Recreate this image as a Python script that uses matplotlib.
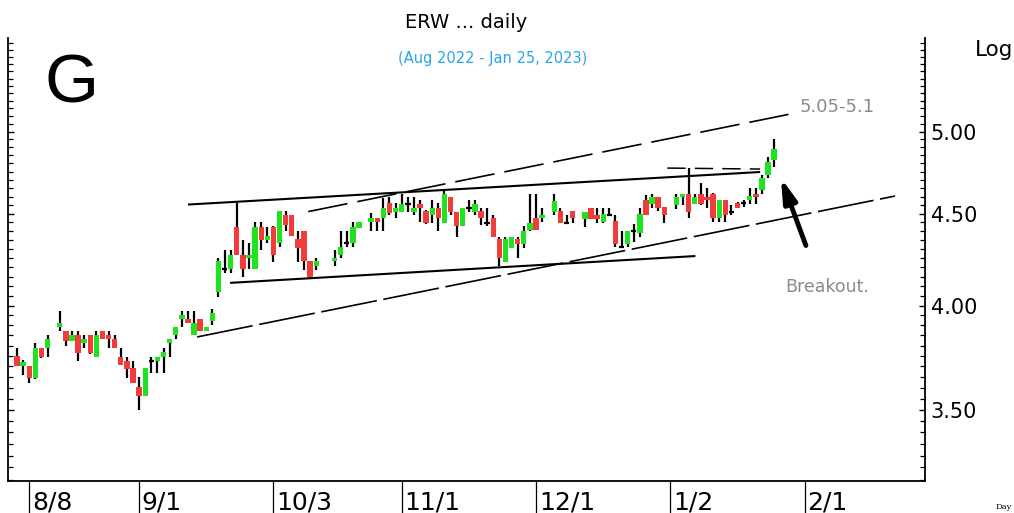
import numpy as np
import matplotlib
matplotlib.use("Agg")
import matplotlib.pyplot as plt
from matplotlib.transforms import blended_transform_factory
from matplotlib.ticker import FixedLocator, FixedFormatter, NullFormatter

# ---------------- data (bar slot -> open, high, low, close); None = no trading ----------
bars = [
    (3.75, 3.79, 3.70, 3.70), (3.70, 3.73, 3.66, 3.72), (3.70, 3.70, 3.62, 3.645),
    (3.645, 3.81, 3.64, 3.79), (3.79, 3.79, 3.74, 3.745), (3.79, 3.85, 3.745, 3.83),
    None,
    (3.89, 3.97, 3.87, 3.91), (3.87, 3.87, 3.80, 3.82), (3.82, 3.87, 3.82, 3.85),
    (3.85, 3.87, 3.725, 3.765), (3.81, 3.85, 3.79, 3.83), (3.85, 3.85, 3.76, 3.765),
    (3.745, 3.87, 3.745, 3.85), (3.87, 3.87, 3.83, 3.83), (3.85, 3.87, 3.79, 3.83),
    (3.83, 3.85, 3.79, 3.79), (3.745, 3.79, 3.705, 3.705), (3.725, 3.745, 3.645, 3.685),
    (3.69, 3.725, 3.62, 3.62), (3.605, 3.65, 3.50, 3.56), (3.56, 3.69, 3.56, 3.69),
    (3.725, 3.745, 3.67, 3.725), (3.725, 3.745, 3.67, 3.745), (3.745, 3.79, 3.67, 3.77),
    (3.81, 3.83, 3.745, 3.83), (3.85, 3.89, 3.83, 3.89), (3.93, 3.97, 3.89, 3.95),
    (3.93, 3.97, 3.91, 3.91), (3.85, 3.97, 3.85, 3.91), (3.93, 3.93, 3.87, 3.87),
    (3.87, 3.89, 3.87, 3.89), (3.92, 3.98, 3.90, 3.96),
    (4.07, 4.25, 4.045, 4.235), (4.19, 4.295, 4.17, 4.19), (4.19, 4.295, 4.17, 4.27),
    (4.425, 4.56, 4.27, 4.27), (4.27, 4.35, 4.15, 4.19), (4.25, 4.335, 4.19, 4.27),
    (4.19, 4.45, 4.19, 4.425), (4.425, 4.45, 4.295, 4.35), (4.35, 4.425, 4.335, 4.375),
    (4.425, 4.43, 4.23, 4.27), (4.335, 4.515, 4.31, 4.515), (4.49, 4.515, 4.40, 4.435),
    (4.49, 4.49, 4.375, 4.375), (4.355, 4.40, 4.23, 4.305), (4.40, 4.40, 4.185, 4.235),
    (4.235, 4.235, 4.145, 4.15), (4.21, 4.25, 4.185, 4.235),
    None, None,
    (4.235, 4.295, 4.21, 4.25), (4.27, 4.40, 4.25, 4.31), (4.335, 4.40, 4.31, 4.335),
    (4.335, 4.45, 4.31, 4.425), (4.42, 4.45, 4.42, 4.45),
    None,
    (4.45, 4.505, 4.40, 4.475), (4.475, 4.475, 4.40, 4.45), (4.475, 4.59, 4.40, 4.535),
    (4.56, 4.60, 4.49, 4.505), (4.51, 4.56, 4.475, 4.535), (4.51, 4.615, 4.51, 4.555),
    (4.555, 4.60, 4.51, 4.555), (4.51, 4.60, 4.49, 4.535), (4.555, 4.58, 4.45, 4.535),
    (4.515, 4.52, 4.44, 4.445), (4.49, 4.58, 4.445, 4.535), (4.535, 4.56, 4.40, 4.475),
    (4.445, 4.64, 4.445, 4.615), (4.60, 4.60, 4.49, 4.51), (4.51, 4.51, 4.37, 4.43),
    (4.43, 4.535, 4.43, 4.535), (4.535, 4.58, 4.51, 4.535), (4.51, 4.58, 4.49, 4.555),
    (4.515, 4.535, 4.435, 4.475), (4.445, 4.535, 4.43, 4.445), (4.475, 4.49, 4.37, 4.37),
    (4.355, 4.37, 4.21, 4.25), (4.23, 4.37, 4.23, 4.355), (4.305, 4.37, 4.305, 4.37),
    (4.355, 4.37, 4.25, 4.33), (4.33, 4.43, 4.305, 4.40), (4.405, 4.615, 4.40, 4.445),
    (4.475, 4.615, 4.405, 4.405), (4.475, 4.535, 4.45, 4.49),
    None,
    (4.51, 4.615, 4.49, 4.575), (4.515, 4.535, 4.445, 4.445), (4.445, 4.49, 4.445, 4.445),
    (4.515, 4.515, 4.445, 4.475),
    None,
    (4.47, 4.51, 4.425, 4.51), (4.535, 4.535, 4.47, 4.47), (4.49, 4.535, 4.445, 4.47),
    (4.45, 4.535, 4.445, 4.50), (4.49, 4.535, 4.49, 4.49), (4.46, 4.49, 4.31, 4.33),
    (4.31, 4.40, 4.305, 4.31), (4.33, 4.40, 4.31, 4.40), (4.40, 4.44, 4.34, 4.40),
    (4.39, 4.535, 4.37, 4.50), (4.58, 4.61, 4.49, 4.49), (4.555, 4.615, 4.535, 4.60),
    (4.60, 4.60, 4.515, 4.535), (4.54, 4.54, 4.445, 4.49),
    None,
    (4.55, 4.615, 4.525, 4.60), (4.60, 4.615, 4.55, 4.615), (4.615, 4.77, 4.475, 4.51),
    (4.555, 4.615, 4.555, 4.60), (4.615, 4.68, 4.55, 4.555), (4.60, 4.65, 4.535, 4.58),
    (4.615, 4.62, 4.45, 4.475), (4.475, 4.58, 4.45, 4.58), (4.58, 4.58, 4.45, 4.49),
    (4.51, 4.55, 4.49, 4.51), (4.56, 4.57, 4.535, 4.535), (4.56, 4.58, 4.54, 4.56),
    (4.58, 4.65, 4.555, 4.605), (4.615, 4.65, 4.555, 4.60), (4.64, 4.73, 4.615, 4.71),
    (4.73, 4.84, 4.71, 4.81), (4.82, 4.95, 4.78, 4.89),
]

date_labels = ["8/8", "9/1", "10/3", "11/1", "12/1", "1/2", "2/1"]
date_slots = [2, 20, 42, 63, 85, 107, 129]

ytick_vals = [3.5, 4.0, 4.5, 5.0]
ytick_labels = ["3.50", "4.00", "4.50", "5.00"]
yminor_vals = [round(3.20 + 0.05 * k, 2) for k in range(49)]

# trendlines: ((slot, price), (slot, price))
upper_solid = [(28.0, 4.553), (121.7, 4.747)]
lower_solid = [(34.9, 4.118), (111.1, 4.262)]
lower_dashed = [(29.5, 3.842), (143.8, 4.603)]
upper_dashed = [(47.7, 4.512), (126.6, 5.113)]
top_flat_dashed = [(106.5, 4.771), (121.7, 4.765)]
arrow_tail = (129.2, 4.32)
arrow_tip = (125.1, 4.711)

GREEN = "#1fe31f"
RED = "#f23b3b"

# ---------------- figure ----------------
W, H = 1014, 513
fig = plt.figure(figsize=(W / 100, H / 100), dpi=100)
ax = fig.add_axes([8 / W, (H - 481) / H, (925 - 8) / W, (481 - 38) / H])

ax.set_yscale("log")
ax.set_ylim(3.194, 5.637)
ax.set_xlim(-1.47, 148.7)

for i, b in enumerate(bars):
    if b is None:
        continue
    o, h, l, c = b
    ax.vlines(i, l, h, color="black", lw=1.6, zorder=2)
    if abs(c - o) < 1e-9:
        ax.hlines(o, i - 0.45, i + 0.45, color="black", lw=1.6, zorder=3)
    else:
        col = GREEN if c > o else RED
        ax.bar(i, abs(c - o), bottom=min(o, c), width=0.88, color=col,
               edgecolor="none", zorder=3)

def seg(points, **kw):
    xs = [p[0] for p in points]
    ys = [p[1] for p in points]
    return ax.plot(xs, ys, color="black", zorder=4, solid_capstyle="butt", **kw)[0]

seg(upper_solid, lw=1.5)
seg(lower_solid, lw=1.5)
l1 = seg(lower_dashed, lw=1.2)
l1.set_dashes([34, 4])
l2 = seg(upper_dashed, lw=1.2)
l2.set_dashes([24, 6])
l3 = seg(top_flat_dashed, lw=1.1)
l3.set_dashes([12, 6])

ax.annotate("", xy=arrow_tip, xytext=arrow_tail,
            arrowprops=dict(arrowstyle="-|>,head_length=1.4,head_width=0.4",
                            lw=3.5, color="black", shrinkA=0, shrinkB=0),
            zorder=5)

# spines
ax.spines["top"].set_visible(False)
for s in ("left", "right", "bottom"):
    ax.spines[s].set_linewidth(1.3)
    ax.spines[s].set_color("black")

# y axis
ax.yaxis.set_major_locator(FixedLocator(ytick_vals))
ax.yaxis.set_major_formatter(FixedFormatter(ytick_labels))
ax.yaxis.set_minor_locator(FixedLocator(yminor_vals))
ax.yaxis.set_minor_formatter(NullFormatter())
ax.tick_params(axis="y", which="both", direction="in", left=True, right=True,
               labelleft=False, labelright=True, color="black")
ax.tick_params(axis="y", which="major", length=4, width=1, pad=4, labelsize=15)
ax.tick_params(axis="y", which="minor", length=3.5, width=0.9)

# x axis separators and labels
ax.set_xticks(date_slots)
ax.set_xticklabels([""] * len(date_slots))
ax.xaxis.set_minor_locator(FixedLocator([]))
ax.tick_params(axis="x", direction="out", length=26, width=0.9, color="black")
trans = blended_transform_factory(ax.transData, fig.transFigure)
for lab, pos in zip(date_labels, date_slots):
    ax.text(pos + 0.45, 3 / H, lab, transform=trans, ha="left", va="baseline",
            fontsize=18, family=["Liberation Sans Narrow", "DejaVu Sans Condensed", "DejaVu Sans"])

# texts
fig.text(466 / W, 1 - 22 / H, "ERW ... daily", ha="center", va="center", fontsize=14)
fig.text(493 / W, 1 - 59 / H, "(Aug 2022 - Jan 25, 2023)", ha="center", va="center",
         fontsize=10.5, color="#2aa3ee")
fig.text(44 / W, 1 - 103 / H, "G", ha="left", va="baseline", fontsize=50,
         family=["Liberation Sans", "DejaVu Sans"])
fig.text(975 / W, 1 - 56 / H, "Log", ha="left", va="baseline", fontsize=15.5)
fig.text(800 / W, 1 - 112 / H, "5.05-5.1", ha="left", va="baseline", fontsize=13,
         color="#8a8a8a")
fig.text(785 / W, 1 - 292 / H, "Breakout.", ha="left", va="baseline", fontsize=12.5,
         color="#8a8a8a")
fig.text(996 / W, 2 / H, "Day", ha="left", va="bottom", fontsize=6,
         family=["DejaVu Serif"])

fig.savefig("out.png", dpi=100)
